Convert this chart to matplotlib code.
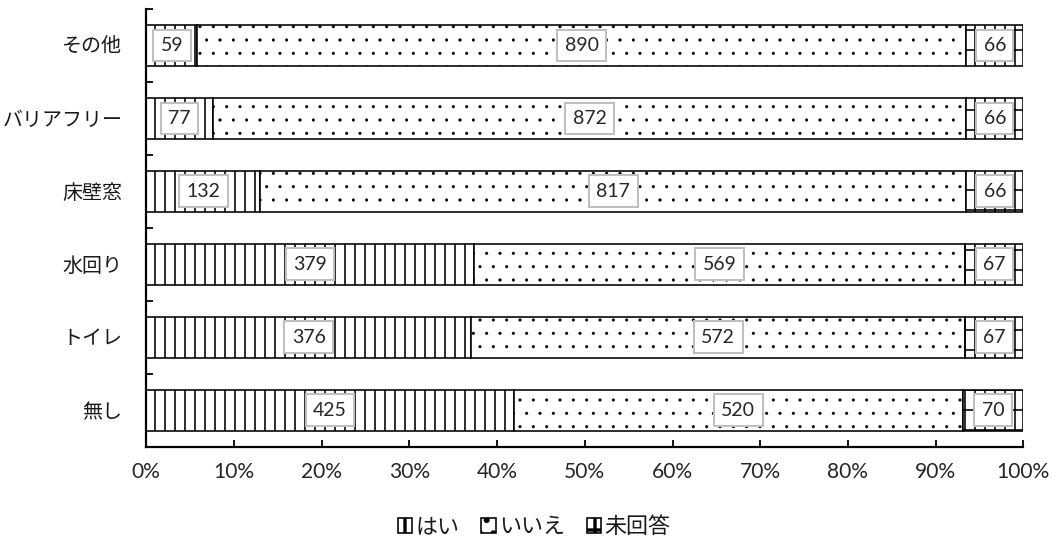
import matplotlib
matplotlib.use('Agg')
import matplotlib.pyplot as plt
import numpy as np

# ---- data ----
categories = ['その他', 'バリアフリー', '床壁窓', '水回り', 'トイレ', '無し']
series_names = ['はい', 'いいえ', '未回答']
yes_vals = [59, 77, 132, 379, 376, 425]
no_vals = [890, 872, 817, 569, 572, 520]
na_vals = [66, 66, 66, 67, 67, 70]
x_ticks = [0, 0.1, 0.2, 0.3, 0.4, 0.5, 0.6, 0.7, 0.8, 0.9, 1.0]
x_tick_labels = ['0%', '10%', '20%', '30%', '40%', '50%', '60%', '70%', '80%', '90%', '100%']

DPI = 240
W, H = 1052, 540


def pt(px):
    return px * 72.0 / DPI


plt.rcParams['font.family'] = ['Lato', 'Noto Sans CJK JP', 'DejaVu Sans']

fig = plt.figure(figsize=(W / DPI, H / DPI), dpi=DPI)
left, right, top, bottom = 146.3, 1023.3, 9.0, 446.7
ax = fig.add_axes([left / W, 1 - bottom / H, (right - left) / W, (bottom - top) / H])

series = [np.array(yes_vals, float), np.array(no_vals, float), np.array(na_vals, float)]
totals = series[0] + series[1] + series[2]
hatches = ['||||', '...', '||||--']
hatch_lw = [pt(1.6), pt(0.4), pt(1.6)]
y = np.arange(len(categories))
lefts = np.zeros(len(categories))
box = dict(boxstyle='square,pad=0.38', fc='white', ec='#BFBFBF', lw=pt(2.0))
containers = []
for vals, name, h, hlw in zip(series, series_names, hatches, hatch_lw):
    frac = vals / totals
    with plt.rc_context({'hatch.linewidth': hlw}):
        bc = ax.barh(y, frac, left=lefts, height=0.56, color='white', edgecolor='black',
                     linewidth=pt(1.6), hatch=h, label=name)
        for p in bc.patches:
            if hasattr(p, 'set_hatch_linewidth'):
                p.set_hatch_linewidth(hlw)
    ax.bar_label(bc, labels=[f'{int(v)}' for v in vals], label_type='center',
                 fontsize=pt(19.5), color='#262626', bbox=box)
    containers.append(bc)
    lefts = lefts + frac

ax.set_xlim(0, 1)
ax.set_ylim(len(categories) - 0.5, -0.5)

ax.set_xticks(x_ticks)
ax.set_xticklabels(x_tick_labels)
ax.tick_params(axis='x', direction='in', length=pt(7), width=pt(1.8), pad=pt(15),
               labelsize=pt(21), labelcolor='#262626')

ax.set_yticks(np.arange(len(categories) + 1) - 0.5)
ax.set_yticklabels([])
ax.set_yticks(y, minor=True)
ax.set_yticklabels(categories, minor=True)
ax.tick_params(axis='y', which='major', direction='in', length=pt(7), width=pt(1.8))
ax.tick_params(axis='y', which='minor', length=0, pad=pt(24), labelsize=pt(20),
               labelcolor='#1a1a1a')

for s in ['top', 'right']:
    ax.spines[s].set_visible(False)
for s in ['left', 'bottom']:
    ax.spines[s].set_linewidth(pt(2.2))

fig.legend(handles=containers, labels=series_names, loc='center',
           bbox_to_anchor=(534 / W, 1 - 527 / H), ncol=3, frameon=False,
           handlelength=0.65, handleheight=0.65, handletextpad=0.15,
           columnspacing=1.0, fontsize=pt(22), labelcolor='#1a1a1a')

fig.savefig('out.png', dpi=DPI)
